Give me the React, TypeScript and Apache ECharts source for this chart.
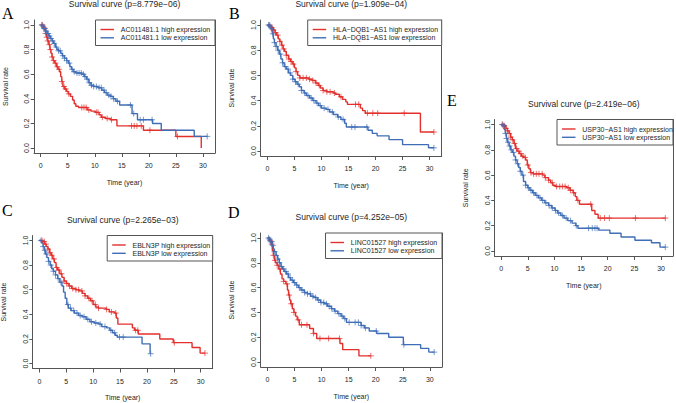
import { useEffect, useRef } from "react";
import * as echarts from "echarts";

// Axis ticks shared by every panel
const xTicks = [0, 5, 10, 15, 20, 25, 30];
const yTicks = [0, 0.2, 0.4, 0.6, 0.8, 1.0];
const X_MAX = 31;

const panelLetters = ["A", "B", "C", "D", "E"];
const genes = ["AC011481.1", "HLA−DQB1−AS1", "EBLN3P", "LINC01527", "USP30−AS1"];
const pValues = ["8.779e−06", "1.909e−04", "2.265e−03", "4.252e−05", "2.419e−06"];

// Kaplan-Meier steps: [time (year), survival after the drop]
const highA = [[0, 1], [0.4, 0.98], [0.7, 0.96], [0.9, 0.93], [1.1, 0.9], [1.3, 0.87], [1.5, 0.84], [1.7, 0.8], [1.9, 0.77], [2.1, 0.74], [2.3, 0.71], [2.6, 0.69], [2.9, 0.66], [3.2, 0.64], [3.5, 0.62], [3.7, 0.58], [3.9, 0.54], [4.1, 0.5], [4.4, 0.48], [4.8, 0.46], [5.1, 0.44], [5.5, 0.42], [5.9, 0.39], [6.2, 0.36], [6.5, 0.34], [7.0, 0.33], [8.6, 0.31], [9.3, 0.3], [10.1, 0.29], [10.8, 0.27], [11.2, 0.25], [12.0, 0.24], [12.9, 0.23], [14.1, 0.18], [19.0, 0.145], [25.0, 0.094], [29.7, 0]];
const lowA = [[0, 1], [0.3, 0.99], [0.6, 0.97], [0.9, 0.95], [1.2, 0.93], [1.5, 0.91], [1.8, 0.89], [2.1, 0.87], [2.4, 0.85], [2.7, 0.82], [3.0, 0.8], [3.3, 0.79], [3.7, 0.77], [4.0, 0.75], [4.4, 0.73], [4.8, 0.71], [5.1, 0.69], [5.4, 0.66], [5.7, 0.64], [6.0, 0.62], [6.5, 0.61], [7.6, 0.6], [8.1, 0.58], [8.5, 0.56], [8.9, 0.53], [9.3, 0.51], [9.8, 0.5], [10.6, 0.49], [11.3, 0.47], [11.8, 0.45], [12.3, 0.43], [12.9, 0.42], [13.4, 0.4], [13.9, 0.38], [14.6, 0.35], [16.9, 0.28], [17.9, 0.23], [20.7, 0.2], [22.3, 0.145], [28.4, 0.095], [30.8, 0.095]];
const highB = [[0, 1], [0.5, 0.99], [0.8, 0.98], [1.1, 0.96], [1.4, 0.94], [1.7, 0.92], [2.0, 0.89], [2.3, 0.87], [2.6, 0.84], [2.9, 0.81], [3.2, 0.79], [3.5, 0.76], [3.9, 0.73], [4.3, 0.71], [4.7, 0.69], [5.0, 0.66], [5.3, 0.63], [5.6, 0.6], [6.0, 0.58], [7.7, 0.57], [8.3, 0.56], [8.9, 0.54], [9.4, 0.52], [9.8, 0.5], [10.3, 0.48], [11.0, 0.47], [12.2, 0.46], [12.6, 0.45], [13.3, 0.43], [13.9, 0.41], [14.5, 0.39], [14.8, 0.37], [17.2, 0.34], [17.6, 0.32], [18.1, 0.3], [28.3, 0.15], [30.8, 0.15]];
const lowB = [[0, 1], [0.3, 0.99], [0.6, 0.97], [0.9, 0.93], [1.1, 0.89], [1.3, 0.86], [1.6, 0.83], [1.9, 0.8], [2.2, 0.77], [2.5, 0.73], [2.8, 0.7], [3.1, 0.67], [3.5, 0.65], [3.9, 0.62], [4.3, 0.6], [4.7, 0.57], [5.1, 0.55], [5.5, 0.53], [5.9, 0.51], [6.3, 0.48], [6.8, 0.46], [7.2, 0.44], [7.8, 0.42], [8.4, 0.4], [9.0, 0.38], [9.5, 0.36], [10.0, 0.34], [10.9, 0.33], [11.5, 0.31], [12.2, 0.29], [13.0, 0.27], [13.6, 0.25], [14.3, 0.22], [14.6, 0.19], [18.6, 0.165], [19.4, 0.14], [20.3, 0.12], [22.5, 0.09], [25.0, 0.05], [29.8, 0.025], [30.8, 0.025]];
const highC = [[0, 1], [0.6, 0.99], [1.0, 0.97], [1.3, 0.95], [1.6, 0.93], [1.9, 0.9], [2.2, 0.88], [2.5, 0.85], [2.8, 0.82], [3.1, 0.78], [3.4, 0.76], [3.8, 0.73], [4.2, 0.7], [4.6, 0.67], [5.0, 0.65], [5.5, 0.63], [6.0, 0.61], [6.8, 0.6], [7.4, 0.59], [8.0, 0.57], [8.5, 0.55], [9.0, 0.53], [9.5, 0.51], [10.0, 0.48], [10.5, 0.46], [11.0, 0.45], [12.4, 0.44], [13.0, 0.42], [14.0, 0.41], [14.3, 0.37], [14.6, 0.32], [17.3, 0.29], [17.7, 0.27], [18.4, 0.24], [22.4, 0.2], [24.9, 0.17], [28.4, 0.13], [29.9, 0.085], [30.8, 0.085]];
const lowC = [[0, 1], [0.4, 0.98], [0.7, 0.95], [0.9, 0.92], [1.1, 0.89], [1.4, 0.86], [1.7, 0.83], [2.0, 0.8], [2.3, 0.77], [2.6, 0.75], [3.0, 0.72], [3.4, 0.69], [3.8, 0.66], [4.2, 0.63], [4.5, 0.58], [4.8, 0.53], [5.1, 0.48], [5.4, 0.45], [5.9, 0.43], [6.5, 0.41], [7.3, 0.39], [8.0, 0.38], [8.7, 0.36], [9.4, 0.34], [10.2, 0.33], [11.1, 0.32], [11.6, 0.3], [12.5, 0.29], [13.1, 0.27], [13.6, 0.25], [14.1, 0.23], [14.5, 0.215], [19.1, 0.16], [20.6, 0.08], [20.7, 0.08]];
const highD = [[0, 1], [0.4, 0.98], [0.7, 0.95], [0.9, 0.9], [1.1, 0.86], [1.3, 0.82], [1.5, 0.8], [1.8, 0.78], [2.1, 0.75], [2.4, 0.71], [2.7, 0.67], [3.0, 0.65], [3.4, 0.63], [3.7, 0.58], [3.9, 0.54], [4.1, 0.5], [4.3, 0.47], [4.6, 0.43], [4.9, 0.4], [5.2, 0.37], [5.5, 0.34], [5.9, 0.3], [7.8, 0.27], [8.5, 0.23], [9.1, 0.19], [13.4, 0.15], [13.9, 0.1], [16.9, 0.05], [19.1, 0.05]];
const lowD = [[0, 1], [0.3, 0.99], [0.6, 0.97], [0.9, 0.94], [1.1, 0.91], [1.3, 0.89], [1.6, 0.86], [1.9, 0.83], [2.2, 0.8], [2.5, 0.77], [2.8, 0.75], [3.1, 0.73], [3.5, 0.71], [3.9, 0.68], [4.3, 0.66], [4.8, 0.64], [5.3, 0.62], [5.7, 0.6], [6.2, 0.58], [6.8, 0.56], [7.4, 0.55], [8.0, 0.53], [8.6, 0.52], [9.2, 0.5], [9.8, 0.48], [10.5, 0.47], [11.1, 0.45], [11.8, 0.43], [12.4, 0.41], [13.0, 0.39], [13.6, 0.37], [14.1, 0.35], [14.6, 0.32], [17.3, 0.295], [17.9, 0.275], [18.8, 0.25], [20.2, 0.23], [22.4, 0.2], [25.1, 0.14], [28.3, 0.11], [29.8, 0.08], [30.8, 0.08]];
const highE = [[0, 1], [0.5, 0.99], [0.9, 0.97], [1.2, 0.95], [1.5, 0.93], [1.8, 0.9], [2.1, 0.88], [2.4, 0.85], [2.7, 0.81], [3.0, 0.79], [3.4, 0.77], [3.8, 0.75], [4.2, 0.74], [4.6, 0.72], [4.9, 0.68], [5.2, 0.65], [5.5, 0.62], [6.0, 0.61], [7.8, 0.6], [8.2, 0.58], [8.9, 0.56], [9.3, 0.54], [9.7, 0.52], [10.2, 0.51], [12.3, 0.5], [12.9, 0.48], [13.5, 0.46], [13.9, 0.43], [14.2, 0.4], [14.7, 0.37], [17.0, 0.32], [17.6, 0.29], [18.2, 0.26], [30.8, 0.26]];
const lowE = [[0, 1], [0.3, 0.99], [0.6, 0.96], [0.8, 0.93], [1.0, 0.89], [1.2, 0.86], [1.5, 0.83], [1.8, 0.8], [2.1, 0.78], [2.4, 0.75], [2.7, 0.72], [3.0, 0.69], [3.3, 0.66], [3.6, 0.63], [3.9, 0.6], [4.2, 0.55], [4.6, 0.52], [5.0, 0.5], [5.4, 0.48], [5.9, 0.46], [6.4, 0.44], [7.0, 0.42], [7.6, 0.4], [8.2, 0.38], [8.9, 0.36], [9.5, 0.34], [10.1, 0.32], [10.6, 0.3], [11.2, 0.28], [11.8, 0.26], [12.5, 0.24], [13.3, 0.22], [14.0, 0.2], [14.4, 0.18], [18.3, 0.165], [20.4, 0.14], [22.5, 0.11], [25.1, 0.085], [28.2, 0.065], [29.8, 0.03], [30.8, 0.03]];

// Censoring times (year)
const censorHighA = [0.3, 0.6, 0.9, 1.1, 1.3, 1.6, 1.8, 2.1, 2.4, 2.7, 3.1, 3.4, 3.9, 4.3, 4.6, 5.2, 7.6, 8.0, 8.4, 8.9, 10.3, 10.6, 11.4, 12.3, 13.1, 16.8, 17.3, 17.8, 18.6, 20.2, 25.3];
const censorLowA = [0.2, 0.4, 0.6, 0.8, 1.0, 1.2, 1.4, 1.6, 1.9, 2.2, 2.5, 2.9, 3.3, 3.6, 4.1, 4.4, 4.8, 5.3, 5.8, 6.2, 6.7, 7.1, 7.5, 7.9, 8.2, 8.6, 9.0, 9.4, 9.8, 10.3, 10.8, 11.2, 11.7, 12.1, 12.6, 13.0, 13.5, 14.2, 16.6, 17.2, 18.4, 19.0, 20.6, 30.8];
const censorHighB = [0.4, 0.8, 1.1, 1.5, 1.9, 2.3, 2.7, 3.0, 3.5, 4.0, 4.4, 4.8, 5.3, 6.0, 6.6, 7.2, 7.8, 8.4, 9.0, 9.6, 10.3, 11.0, 11.6, 12.4, 13.6, 16.3, 16.9, 18.5, 19.5, 20.4, 25.3, 30.8];
const censorLowB = [0.2, 0.5, 0.8, 1.0, 1.3, 1.6, 2.0, 2.4, 2.8, 3.3, 3.8, 4.2, 4.7, 5.2, 5.7, 6.3, 6.9, 7.5, 8.1, 8.6, 9.2, 9.8, 10.5, 11.2, 12.0, 13.1, 14.0, 15.6, 16.2, 18.4, 30.8];
const censorHighC = [0.5, 0.9, 1.2, 1.6, 2.0, 2.3, 2.7, 3.2, 3.6, 4.1, 4.6, 5.1, 5.6, 6.2, 6.8, 7.3, 7.9, 8.5, 9.2, 9.8, 10.4, 11.0, 12.5, 13.4, 14.2, 17.9, 18.3, 25.1, 30.8];
const censorLowC = [0.3, 0.7, 1.0, 1.3, 1.7, 2.1, 2.6, 3.0, 3.5, 4.0, 5.3, 5.8, 6.4, 7.0, 7.6, 8.3, 9.0, 9.7, 10.5, 11.3, 12.2, 13.3, 14.0, 14.9, 15.6, 20.7];
const censorHighD = [0.5, 0.8, 1.1, 1.4, 1.8, 2.3, 3.0, 3.6, 4.0, 4.4, 4.9, 5.7, 6.3, 7.3, 8.5, 9.7, 11.3, 13.3, 19.1];
const censorLowD = [0.2, 0.4, 0.6, 0.8, 1.0, 1.3, 1.6, 1.9, 2.2, 2.6, 3.0, 3.4, 3.8, 4.2, 4.6, 5.0, 5.4, 5.9, 6.4, 6.9, 7.4, 7.9, 8.4, 8.9, 9.4, 9.9, 10.4, 10.9, 11.4, 11.9, 12.5, 13.2, 13.8, 14.3, 15.1, 16.2, 16.8, 17.3, 18.1, 20.1, 25.2, 30.8];
const censorHighE = [0.3, 0.6, 0.9, 1.2, 1.5, 1.8, 2.1, 2.5, 2.9, 3.3, 3.7, 4.1, 4.5, 5.0, 5.6, 6.1, 6.6, 7.1, 7.7, 8.3, 8.9, 9.6, 10.4, 11.0, 11.5, 12.0, 12.6, 13.0, 13.6, 14.4, 16.8, 18.6, 19.4, 20.3, 25.2, 30.8];
const censorLowE = [0.2, 0.5, 0.8, 1.0, 1.3, 1.6, 1.9, 2.3, 2.7, 3.1, 3.6, 4.1, 4.6, 5.1, 5.6, 6.1, 6.7, 7.3, 7.8, 8.4, 9.0, 9.6, 10.2, 10.8, 11.5, 12.2, 13.0, 14.1, 16.4, 17.1, 17.6, 18.0, 30.8];

const highCurves = [highA, highB, highC, highD, highE];
const lowCurves = [lowA, lowB, lowC, lowD, lowE];
const highCensors = [censorHighA, censorHighB, censorHighC, censorHighD, censorHighE];
const lowCensors = [censorLowA, censorLowB, censorLowC, censorLowD, censorLowE];

// Plot boxes and decorations, in page pixels
const layout = [
  { left: 34, top: 20, width: 181, height: 133, legendW: 119.5, letterX: 2, letterY: 13 },
  { left: 260.7, top: 20, width: 181, height: 136, legendW: 134, letterX: 229, letterY: 13 },
  { left: 32.7, top: 235.5, width: 180, height: 133, legendW: 105.5, letterX: 2, letterY: 210 },
  { left: 260.7, top: 233, width: 181.3, height: 134, legendW: 116.5, letterX: 228, letterY: 212 },
  { left: 494.5, top: 119.5, width: 178.5, height: 136.5, legendW: 116, letterX: 447, letterY: 100 },
];

const RED = "#E3302D";
const BLUE = "#3F6EB6";
const AXIS = "#555";
const TEXT = "#262626";
const SANS = '"Liberation Sans", Arial, sans-serif';
const SERIF = '"Liberation Serif", "Times New Roman", serif';

function survivalAt(curve: number[][], t: number) {
  let s = 1;
  for (const [ti, si] of curve) {
    if (ti <= t) s = si;
    else break;
  }
  return s;
}

function txt(text: string, x: number, y: number, size: number, align: string, family = SANS, color = TEXT, rotation = 0) {
  return {
    type: "text",
    x,
    y,
    rotation,
    silent: true,
    style: {
      text,
      x: 0,
      y: 0,
      fill: color,
      fontSize: size,
      fontFamily: family,
      align,
      textAlign: align,
      verticalAlign: "middle",
      textVerticalAlign: "middle",
    },
  };
}

function buildOption() {
  const grid: any[] = [];
  const xAxis: any[] = [];
  const yAxis: any[] = [];
  const series: any[] = [];
  const graphic: any[] = [];
  const pad = 0.04;

  layout.forEach((b, i) => {
    grid.push({ left: b.left, top: b.top, width: b.width, height: b.height, outerBoundsMode: "none", containLabel: false });
    xAxis.push({
      gridIndex: i,
      type: "value",
      min: -pad * X_MAX,
      max: X_MAX * (1 + pad),
      splitLine: { show: false },
      axisLine: { show: true, onZero: false, lineStyle: { color: AXIS, width: 1 } },
      axisTick: { show: true, length: 4, customValues: xTicks, lineStyle: { color: AXIS, width: 1 } },
      axisLabel: { customValues: xTicks, margin: 9, fontSize: 7, fontFamily: SANS, color: TEXT },
    });
    yAxis.push({
      gridIndex: i,
      type: "value",
      min: -pad,
      max: 1 + pad,
      splitLine: { show: false },
      axisLine: { show: true, onZero: false, lineStyle: { color: AXIS, width: 1 } },
      axisTick: { show: true, length: 3.3, customValues: yTicks, lineStyle: { color: AXIS, width: 1 } },
      axisLabel: {
        customValues: yTicks,
        rotate: 90,
        margin: 4,
        fontSize: 7,
        fontFamily: SANS,
        color: TEXT,
        formatter: (v: number) => v.toFixed(1),
      },
    });
    // right side of the plot frame
    yAxis.push({
      gridIndex: i,
      type: "value",
      position: "right",
      min: -pad,
      max: 1 + pad,
      splitLine: { show: false },
      axisLine: { show: true, onZero: false, lineStyle: { color: AXIS, width: 1 } },
      axisTick: { show: false },
      axisLabel: { show: false },
    });

    const groups = [
      { curve: highCurves[i], censor: highCensors[i], color: RED },
      { curve: lowCurves[i], censor: lowCensors[i], color: BLUE },
    ];
    groups.forEach((g) => {
      series.push({
        type: "line",
        xAxisIndex: i,
        yAxisIndex: 2 * i,
        step: "end",
        showSymbol: false,
        silent: true,
        data: g.curve,
        lineStyle: { color: g.color, width: 1.4 },
        z: 2,
      });
      series.push({
        type: "scatter",
        xAxisIndex: i,
        yAxisIndex: 2 * i,
        silent: true,
        symbol: "path://M5,0L5,10M0,5L10,5",
        symbolSize: 6,
        data: g.censor.map((t) => [t, survivalAt(g.curve, t)]),
        itemStyle: { color: "none", borderColor: g.color, borderWidth: 1, opacity: 0.7 },
        z: 3,
      });
    });

    const cx = b.left + b.width / 2;
    const right = b.left + b.width;
    const bottom = b.top + b.height;
    graphic.push(txt(panelLetters[i], b.letterX, b.letterY, 16, "left", SERIF, "#000"));
    graphic.push(txt(`Survival curve (p=${pValues[i]})`, cx, b.top - 16, 8.5, "center"));
    graphic.push(txt("Time (year)", cx, bottom + 29, 7, "center"));
    graphic.push(txt("Survival rate", b.left - 29, b.top + b.height / 2, 7, "center", SANS, TEXT, Math.PI / 2));

    // legend in the top-right corner of the plot frame
    const lx = right - b.legendW;
    const ly = b.top;
    graphic.push({
      type: "rect",
      silent: true,
      shape: { x: lx, y: ly, width: b.legendW, height: 25.5 },
      style: { fill: "#fff", stroke: AXIS, lineWidth: 1 },
      z: 10,
    });
    [
      { label: `${genes[i]} high expression`, color: RED, dy: 9.5 },
      { label: `${genes[i]} low expression`, color: BLUE, dy: 17.8 },
    ].forEach((row) => {
      graphic.push({
        type: "line",
        silent: true,
        shape: { x1: lx + 5, y1: ly + row.dy, x2: lx + 18.5, y2: ly + row.dy },
        style: { stroke: row.color, lineWidth: 1.4 },
        z: 11,
      });
      graphic.push({ ...txt(row.label, lx + 25.3, ly + row.dy, 7, "left"), z: 11 });
    });
  });

  return {
    animation: false,
    backgroundColor: "#fff",
    grid,
    xAxis,
    yAxis,
    series,
    graphic,
  };
}

export default function App() {
  const ref = useRef<HTMLDivElement>(null);
  useEffect(() => {
    if (!ref.current) return;
    const chart = echarts.init(ref.current, undefined, { renderer: "svg" });
    chart.setOption(buildOption() as any);
    return () => chart.dispose();
  }, []);
  return (
    <div
      ref={ref}
      style={{ position: "absolute", left: 0, top: 0, width: 676, height: 403, background: "#fff" }}
    />
  );
}
